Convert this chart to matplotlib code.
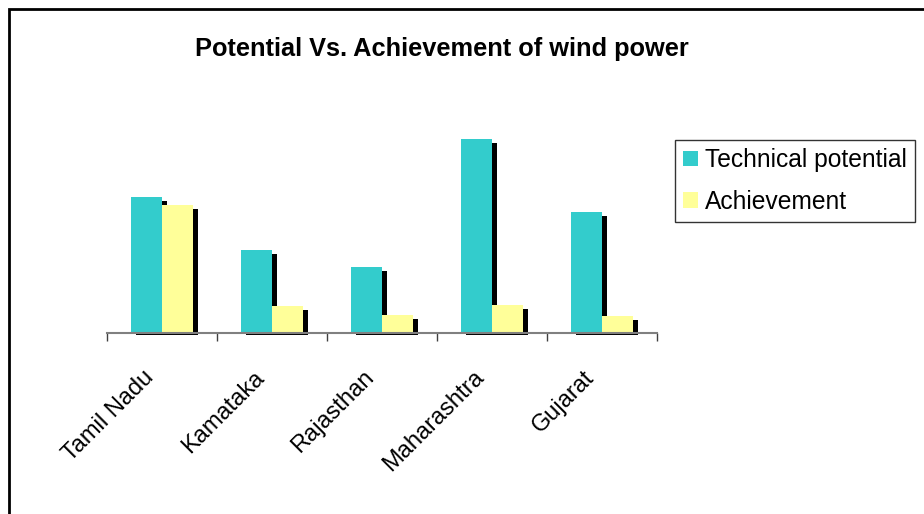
import matplotlib.pyplot as plt
import matplotlib.transforms as mtrans
from matplotlib.patches import Rectangle
import numpy as np

plt.rc('font', family=['Liberation Sans', 'DejaVu Sans'])

states = ['Tamil Nadu', 'Kamataka', 'Rajasthan', 'Maharashtra', 'Gujarat']
technical = [2720, 1660, 1320, 3880, 2420]
achieved = [2560, 540, 360, 560, 340]

teal = '#33CCCC'
pale = '#FFFF99'

W, H = 924, 514
fig = plt.figure(figsize=(W / 100, H / 100), dpi=100)

# frame round the chart area (runs off the right and bottom edges)
fig.patches.append(Rectangle((9 / W, -0.1), 1.2, 1 - 9 / H + 0.1,
                             transform=fig.transFigure, fill=False,
                             ec='black', lw=2))

top_px, base_px = 100, 333
ax = fig.add_axes([107 / W, 1 - base_px / H, 550 / W, (base_px - top_px) / H])
ymax = 4660
ax.set_ylim(0, ymax)
ax.set_xlim(-0.5, len(states) - 0.5)

x = np.arange(len(states))
bw = 0.285
sx = 5 / 110
px = ymax / (base_px - top_px)
sy = 4 * px

# drop shadows first, then the bars on top
ax.bar(x - bw + sx, np.array(technical) - sy + 2 * px, bw, bottom=-2 * px,
       align='edge', color='black', zorder=1, clip_on=False)
ax.bar(x + sx, np.array(achieved) - sy + 2 * px, bw, bottom=-2 * px,
       align='edge', color='black', zorder=1, clip_on=False)
ax.bar(x - bw, technical, bw, align='edge', color=teal, zorder=2,
       label='Technical potential')
ax.bar(x, achieved, bw, align='edge', color=pale, zorder=2,
       label='Achievement')

for s in ['top', 'left', 'right']:
    ax.spines[s].set_visible(False)
ax.spines['bottom'].set_color('#808080')
ax.spines['bottom'].set_linewidth(1.5)
ax.spines['bottom'].set_zorder(3)
ax.set_yticks([])
ax.set_xticks(np.arange(len(states) + 1) - 0.5)
ax.set_xticklabels([])
ax.tick_params(axis='x', which='major', length=6, width=1, color='#404040')
ax.set_xticks(x, minor=True)
ax.set_xticklabels(states, minor=True, rotation=45, ha='right', va='top',
                   rotation_mode='anchor', fontsize=17)
ax.tick_params(axis='x', which='minor', length=0, pad=22)
shift = mtrans.ScaledTranslation(-0.19, -0.03, fig.dpi_scale_trans)
for lab in ax.get_xticklabels(minor=True):
    lab.set_transform(lab.get_transform() + shift)
ax.patch.set_visible(False)

fig.text(442 / W, 1 - 49 / H, 'Potential Vs. Achievement of wind power',
         ha='center', va='center', fontsize=18.3, fontweight='bold')

leg = fig.legend(loc='upper left', bbox_to_anchor=(675 / W, 1 - 140 / H),
                 fontsize=17.7, frameon=True, fancybox=False, borderpad=0.33,
                 handlelength=0.6, handleheight=0.6, handletextpad=0.3,
                 labelspacing=0.72, borderaxespad=0)
leg.get_frame().set_edgecolor('black')
leg.get_frame().set_linewidth(1)

fig.savefig('out.png', dpi=100)
